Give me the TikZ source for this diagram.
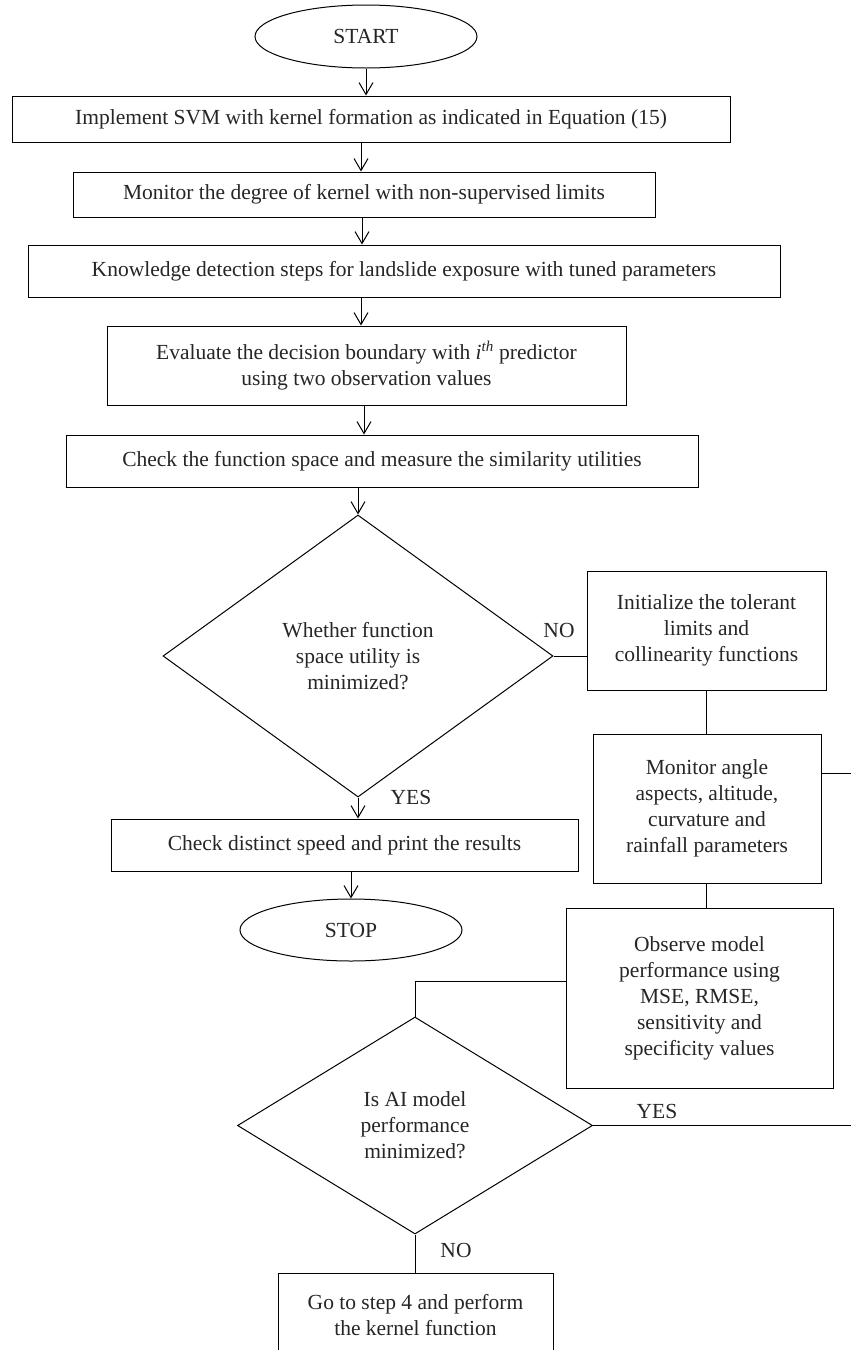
\documentclass[tikz,border=0pt]{standalone}
\usepackage{fontspec}
\setmainfont{Liberation Serif}
\usetikzlibrary{shapes.geometric,arrows.meta}
\tikzset{
  every node/.style={font=\fontsize{21.5}{26}\selectfont, text=black!85},
  proc/.style={draw, rectangle, line width=1pt, inner sep=0pt, align=center},
  term/.style={draw, ellipse, line width=1pt, inner sep=0pt},
  dec/.style={draw, diamond, line width=1pt, inner sep=0pt, align=center},
  flow/.style={line width=1pt, -{Straight Barb[length=12pt,width=14pt,line width=1pt]}},
  link/.style={line width=1pt},
  lab/.style={inner sep=0pt}
}
\begin{document}
\begin{tikzpicture}[x=1pt,y=-1pt]
\clip (0,0) rectangle (851,1350);
\fill[white] (0,0) rectangle (851,1350);
\node[term, minimum width=222pt, minimum height=63pt] (start) at (366,36.5) {START};
\node[proc, minimum width=718pt, minimum height=46pt] (b1) at (371,119) {Implement SVM with kernel formation as indicated in Equation (15)};
\node[proc, minimum width=582pt, minimum height=45pt] (b2) at (364,194.5) {Monitor the degree of kernel with non-supervised limits};
\node[proc, minimum width=752pt, minimum height=52pt] (b3) at (404,271) {Knowledge detection steps for landslide exposure with tuned parameters};
\node[proc, minimum width=519pt, minimum height=79pt] (b4) at (366.5,365.5) {Evaluate the decision boundary with \textit{i}\textsuperscript{\textit{th}} predictor\\using two observation values};
\node[proc, minimum width=632pt, minimum height=52pt] (b5) at (382,461) {Check the function space and measure the similarity utilities};
\node[dec, minimum width=390pt, minimum height=282pt] (d1) at (358,656) {Whether function\\space utility is\\minimized?};
\node[proc, minimum width=239pt, minimum height=119pt] (b6) at (706.5,630.5) {Initialize the tolerant\\limits and\\collinearity functions};
\node[proc, minimum width=228pt, minimum height=149pt] (b7) at (707,808.5) {Monitor angle\\aspects, altitude,\\curvature and\\rainfall parameters};
\node[proc, minimum width=467pt, minimum height=52pt] (b8) at (344.5,845) {Check distinct speed and print the results};
\node[term, minimum width=222pt, minimum height=62pt] (stop) at (351,930) {STOP};
\node[proc, minimum width=267pt, minimum height=180pt] (b9) at (699.5,998) {Observe model\\performance using\\MSE, RMSE,\\sensitivity and\\specificity values};
\node[dec, minimum width=355pt, minimum height=217pt] (d2) at (415,1125.5) {Is AI model\\performance\\minimized?};
\node[proc, minimum width=275pt, minimum height=84pt] (b10) at (415.5,1315) {Go to step 4 and perform\\the kernel function};

\node[lab] (no1) at (559,630) {NO};
\node[lab] (yes1) at (411,797) {YES};
\node[lab] (yes2) at (657,1111) {YES};
\node[lab] (no2) at (456,1250) {NO};

\coordinate (r1) at (851,773);
\coordinate (r2) at (851,1125.5);
\coordinate (k1) at (415,981);

\draw[flow] (start.south) -- (start.south |- b1.north);
\draw[flow] (361,0 |- b1.south) -- (361,0 |- b2.north);
\draw[flow] (362,0 |- b2.south) -- (362,0 |- b3.north);
\draw[flow] (361,0 |- b3.south) -- (361,0 |- b4.north);
\draw[flow] (364,0 |- b4.south) -- (364,0 |- b5.north);
\draw[flow] (d1.north |- b5.south) -- (d1.north);
\draw[flow] (d1.south) -- (d1.south |- b8.north);
\draw[flow] (stop.north |- b8.south) -- (stop.north);
\draw[link] (d1.east) -- (b6.west |- d1.east);
\draw[link] (b6.south) -- (b6.south |- b7.north);
\draw[link] (b7.east |- r1) -- (r1);
\draw[link] (b6.south |- b7.south) -- (b6.south |- b9.north);
\draw[link] (b9.west |- k1) -- (k1) -- (d2.north);
\draw[link] (d2.east) -- (r2);
\draw[link] (d2.south) -- (d2.south |- b10.north);
\end{tikzpicture}
\end{document}
